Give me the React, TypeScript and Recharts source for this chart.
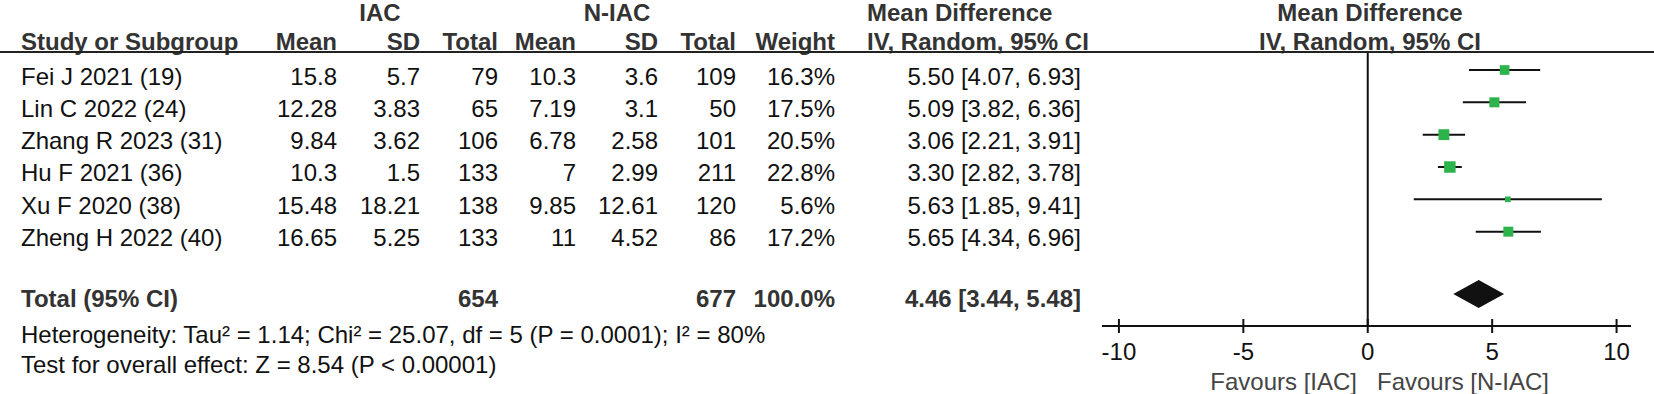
import React from 'react';
import { ScatterChart, Scatter, XAxis, YAxis, ErrorBar, ReferenceLine } from 'recharts';

const studies = ['Fei J 2021 (19)', 'Lin C 2022 (24)', 'Zhang R 2023 (31)', 'Hu F 2021 (36)', 'Xu F 2020 (38)', 'Zheng H 2022 (40)'];
const iacMean = [15.8, 12.28, 9.84, 10.3, 15.48, 16.65];
const iacSd = [5.7, 3.83, 3.62, 1.5, 18.21, 5.25];
const iacTotal = [79, 65, 106, 133, 138, 133];
const niacMean = [10.3, 7.19, 6.78, 7, 9.85, 11];
const niacSd = [3.6, 3.1, 2.58, 2.99, 12.61, 4.52];
const niacTotal = [109, 50, 101, 211, 120, 86];
const weights = [16.3, 17.5, 20.5, 22.8, 5.6, 17.2];
const meanDiff = [5.5, 5.09, 3.06, 3.3, 5.63, 5.65];
const ciLow = [4.07, 3.82, 2.21, 2.82, 1.85, 4.34];
const ciHigh = [6.93, 6.36, 3.91, 3.78, 9.41, 6.96];

const pooledTotals = [654, 677];
const pooledEstimate = [4.46, 3.44, 5.48]; // md, low, high
const xTicks = [-10, -5, 0, 5, 10];
const heterogeneity = 'Heterogeneity: Tau² = 1.14; Chi² = 25.07, df = 5 (P = 0.0001); I² = 80%';
const overallEffect = 'Test for overall effect: Z = 8.54 (P < 0.00001)';

// layout
const W = 1654;
const H = 394;
const PLOT_LEFT = 1102;
const PLOT_RIGHT = 1631;
const PLOT_TOP = 52;
const AXIS_Y = 326;
const X_DOMAIN: [number, number] = [-10.68, 10.58];
const Y_DOMAIN: [number, number] = [-0.557, 7.918];
const TOTAL_ROW = 6.93;
const GREEN = '#2db34b';
const FONT = '"Liberation Sans", Arial, sans-serif';

const rowY = (r: number) =>
  PLOT_TOP + ((r - Y_DOMAIN[0]) / (Y_DOMAIN[1] - Y_DOMAIN[0])) * (AXIS_Y - PLOT_TOP);
const pxPerUnit = (PLOT_RIGHT - PLOT_LEFT) / (X_DOMAIN[1] - X_DOMAIN[0]);

const studyData = studies.map((name, i) => ({
  name,
  row: i,
  md: meanDiff[i],
  weight: weights[i],
  err: [meanDiff[i] - ciLow[i], ciHigh[i] - meanDiff[i]],
}));

const totalData = [
  { row: TOTAL_ROW, md: pooledEstimate[0], lo: pooledEstimate[1], hi: pooledEstimate[2] },
];

const Square = (props: any) => {
  const { cx, cy, payload } = props;
  const side = 2.4 * Math.sqrt(payload.weight);
  return <rect x={cx - side / 2} y={cy - side / 2} width={side} height={side} fill={GREEN} />;
};

const Diamond = (props: any) => {
  const { cx, cy, payload } = props;
  const l = cx - (payload.md - payload.lo) * pxPerUnit;
  const r = cx + (payload.hi - payload.md) * pxPerUnit;
  const h = 14;
  return <polygon points={`${l},${cy} ${cx},${cy - h} ${r},${cy} ${cx},${cy + h}`} fill="#111" />;
};

const AxisTick = (props: any) => {
  const { x, y, payload } = props;
  return (
    <g>
      <line x1={x} x2={x} y1={y - 7} y2={y + 7} stroke="#111" strokeWidth={2} />
      <text x={x} y={y + 34} textAnchor="middle" fontSize={24} fontFamily={FONT} fill="#111">
        {payload.value}
      </text>
    </g>
  );
};

const T = ({ x, y, anchor = 'start', bold = false, fill, children }: any) => (
  <text
    x={x}
    y={y}
    textAnchor={anchor}
    fontSize={24}
    fontFamily={FONT}
    fontWeight={bold ? 'bold' : 'normal'}
    fill={fill || (bold ? '#333' : '#111')}
  >
    {children}
  </text>
);

const Table = () => {
  const base = (i: number) => rowY(i) + 14.5;
  const totalBase = rowY(TOTAL_ROW) + 13;
  return (
    <svg width={W} height={H} style={{ position: 'absolute', left: 0, top: 0, pointerEvents: 'none' }}>
      <T x={380} y={21} anchor="middle" bold>IAC</T>
      <T x={617} y={21} anchor="middle" bold>N-IAC</T>
      <T x={867} y={21} bold>Mean Difference</T>
      <T x={1370} y={21} anchor="middle" bold>Mean Difference</T>

      <T x={21} y={50} bold>Study or Subgroup</T>
      <T x={337} y={50} anchor="end" bold>Mean</T>
      <T x={420} y={50} anchor="end" bold>SD</T>
      <T x={498} y={50} anchor="end" bold>Total</T>
      <T x={576} y={50} anchor="end" bold>Mean</T>
      <T x={658} y={50} anchor="end" bold>SD</T>
      <T x={736} y={50} anchor="end" bold>Total</T>
      <T x={835} y={50} anchor="end" bold>Weight</T>
      <T x={867} y={50} bold>IV, Random, 95% CI</T>
      <T x={1370} y={50} anchor="middle" bold>IV, Random, 95% CI</T>
      <line x1={0} x2={W} y1={52} y2={52} stroke="#222" strokeWidth={2} />

      {studies.map((s, i) => (
        <g key={s}>
          <T x={21} y={base(i)}>{s}</T>
          <T x={337} y={base(i)} anchor="end">{iacMean[i]}</T>
          <T x={420} y={base(i)} anchor="end">{iacSd[i]}</T>
          <T x={498} y={base(i)} anchor="end">{iacTotal[i]}</T>
          <T x={576} y={base(i)} anchor="end">{niacMean[i]}</T>
          <T x={658} y={base(i)} anchor="end">{niacSd[i]}</T>
          <T x={736} y={base(i)} anchor="end">{niacTotal[i]}</T>
          <T x={835} y={base(i)} anchor="end">{weights[i].toFixed(1)}%</T>
          <T x={1081} y={base(i)} anchor="end">
            {`${meanDiff[i].toFixed(2)} [${ciLow[i].toFixed(2)}, ${ciHigh[i].toFixed(2)}]`}
          </T>
        </g>
      ))}

      <T x={21} y={totalBase} bold>Total (95% CI)</T>
      <T x={498} y={totalBase} anchor="end" bold>{pooledTotals[0]}</T>
      <T x={736} y={totalBase} anchor="end" bold>{pooledTotals[1]}</T>
      <T x={835} y={totalBase} anchor="end" bold>100.0%</T>
      <T x={1081} y={totalBase} anchor="end" bold>
        {`${pooledEstimate[0].toFixed(2)} [${pooledEstimate[1].toFixed(2)}, ${pooledEstimate[2].toFixed(2)}]`}
      </T>
      <T x={21} y={343}>{heterogeneity}</T>
      <T x={21} y={373}>{overallEffect}</T>

      <T x={1357} y={390} anchor="end" fill="#444">Favours [IAC]</T>
      <T x={1377} y={390} fill="#444">Favours [N-IAC]</T>
    </svg>
  );
};

export default function App() {
  return (
    <div style={{ position: 'absolute', left: 0, top: 0, width: W, height: H, background: '#fff' }}>
      <ScatterChart
        width={W}
        height={H}
        margin={{ top: PLOT_TOP, right: W - PLOT_RIGHT, bottom: 8, left: PLOT_LEFT }}
      >
        <XAxis
          type="number"
          dataKey="md"
          domain={X_DOMAIN}
          ticks={xTicks}
          interval={0}
          height={60}
          tickLine={false}
          tickSize={0}
          tickMargin={0}
          tick={<AxisTick />}
          axisLine={{ stroke: '#111', strokeWidth: 2 }}
          allowDataOverflow
        />
        <YAxis type="number" dataKey="row" domain={Y_DOMAIN} reversed hide allowDataOverflow />
        <ReferenceLine x={0} stroke="#111" strokeWidth={2} />
        <Scatter data={studyData} shape={() => null} isAnimationActive={false}>
          <ErrorBar dataKey="err" direction="x" width={0} stroke="#111" strokeWidth={2} isAnimationActive={false} />
        </Scatter>
        <Scatter data={studyData} shape={<Square />} isAnimationActive={false} />
        <Scatter data={totalData} shape={<Diamond />} isAnimationActive={false} />
      </ScatterChart>
      <Table />
    </div>
  );
}
